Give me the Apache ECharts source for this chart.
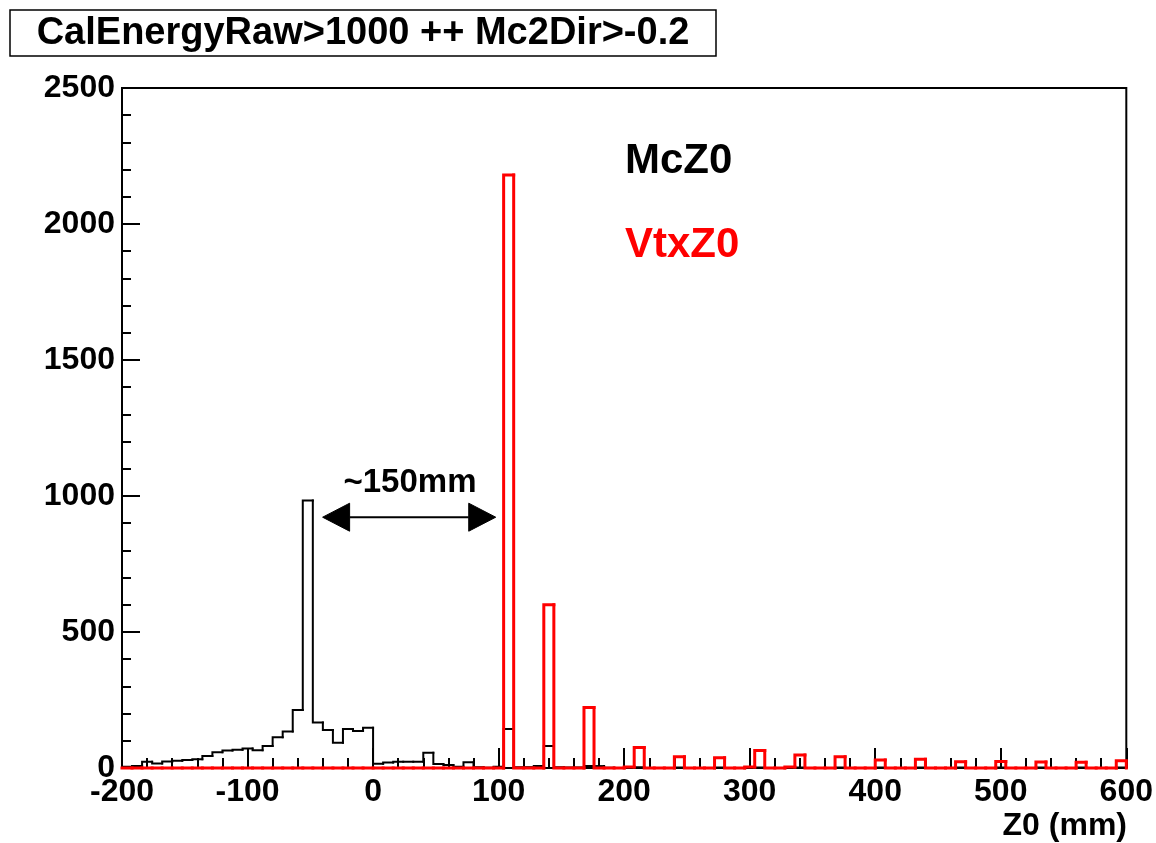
<!DOCTYPE html>
<html>
<head>
<meta charset="utf-8">
<script src="https://cdn.jsdelivr.net/npm/echarts@6/dist/echarts.min.js"></script>
<style>
  html, body { margin: 0; padding: 0; background: #fff; }
  #chart { width: 1156px; height: 843px; }
</style>
</head>
<body>
<div id="chart"></div>
<script>
// Histogram binning: 100 bins of 8 mm from -200 to 600 mm
const binMin = -200;
const binWidth = 8;

// McZ0 counts per bin
const mcZ0 = [
  5, 7, 23, 17, 24, 27, 29, 32, 44, 58,
  64, 67, 72, 65, 81, 113, 134, 213, 983, 167,
  140, 93, 143, 136, 148, 16, 20, 23, 23, 23,
  56, 15, 11, 5, 21, 3, 1, 5, 143, 3,
  3, 7, 81, 3, 2, 2, 7, 7, 1, 0,
  2, 3, 0, 0, 0, 2, 0, 0, 0, 2,
  0, 0, 3, 2, 0, 0, 0, 2, 0, 0,
  0, 2, 0, 0, 0, 2, 0, 0, 0, 2,
  0, 0, 0, 2, 0, 0, 0, 2, 0, 0,
  0, 2, 0, 0, 0, 2, 0, 0, 0, 2
];

// VtxZ0 counts per bin
const vtxZ0 = [
  0, 0, 0, 0, 0, 0, 0, 0, 0, 0,
  0, 0, 0, 0, 0, 0, 0, 0, 0, 0,
  0, 0, 0, 0, 0, 0, 0, 0, 0, 0,
  0, 0, 0, 0, 0, 0, 0, 0, 2180, 0,
  0, 0, 600, 0, 0, 0, 222, 0, 0, 0,
  4, 75, 0, 0, 0, 41, 0, 0, 0, 38,
  0, 0, 4, 64, 0, 0, 4, 48, 0, 0,
  0, 41, 0, 0, 0, 29, 0, 0, 0, 32,
  0, 0, 0, 23, 0, 0, 0, 24, 0, 0,
  0, 22, 0, 0, 0, 21, 0, 0, 0, 27
];

// Axis ticks
const xTicks = { min: -200, max: 600, step: 100 };
const yTicks = { min: 0, max: 2500, step: 500 };

// Annotation: separation arrow between the two peaks
const arrowEnds = [-40.2, 97.7];
const arrowLevel = 922;
const arrowLabel = '~150mm';

const titleText = 'CalEnergyRaw>1000 ++ Mc2Dir>-0.2';
const legendNames = ['McZ0', 'VtxZ0'];
const xAxisTitle = 'Z0 (mm)';

const FONT = '"Liberation Sans", Arial, Helvetica, sans-serif';

// One record per bin: [lowEdge, highEdge, count, previousCount, isLast]
function binRecords(counts) {
  return counts.map((c, i) => [
    binMin + i * binWidth,
    binMin + (i + 1) * binWidth,
    c,
    i === 0 ? 0 : counts[i - 1],
    i === counts.length - 1 ? 1 : 0
  ]);
}

// Draws a histogram outline: rise/fall from the previous bin, then the bin top
function histRenderer(color, width) {
  return function (params, api) {
    const lo = api.value(0), hi = api.value(1);
    const c = api.value(2), prev = api.value(3), last = api.value(4);
    const pts = [api.coord([lo, prev]), api.coord([lo, c]), api.coord([hi, c])];
    if (last) pts.push(api.coord([hi, 0]));
    return {
      type: 'polyline',
      shape: { points: pts },
      style: { stroke: color, lineWidth: width, fill: null, lineJoin: 'miter', lineCap: 'square' }
    };
  };
}

const chart = echarts.init(document.getElementById('chart'), null, { renderer: 'canvas' });

const option = {
  animation: false,
  backgroundColor: '#fff',
  grid: {
    left: 122, right: 29, top: 88, bottom: 75,
    show: true, borderColor: '#000', borderWidth: 2, backgroundColor: 'transparent'
  },
  xAxis: {
    type: 'value',
    min: xTicks.min, max: xTicks.max, interval: xTicks.step,
    axisLine: { show: true, onZero: false, lineStyle: { color: '#000', width: 2 } },
    axisTick: { show: true, inside: true, length: 20, lineStyle: { color: '#000', width: 2 } },
    minorTick: { show: true, splitNumber: 5, length: 10, lineStyle: { color: '#000', width: 2 } },
    splitLine: { show: false },
    minorSplitLine: { show: false },
    axisLabel: {
      show: true, margin: 8, color: '#000', fontFamily: FONT, fontWeight: 'bold', fontSize: 32,
      showMinLabel: true, showMaxLabel: true,
      formatter: v => String(v)
    }
  },
  yAxis: {
    type: 'value',
    min: yTicks.min, max: yTicks.max, interval: yTicks.step,
    axisLine: { show: true, onZero: false, lineStyle: { color: '#000', width: 2 } },
    axisTick: { show: true, inside: true, length: 18, lineStyle: { color: '#000', width: 2 } },
    minorTick: { show: true, splitNumber: 5, length: 9, lineStyle: { color: '#000', width: 2 } },
    splitLine: { show: false },
    minorSplitLine: { show: false },
    axisLabel: {
      show: true, margin: 7, color: '#000', fontFamily: FONT, fontWeight: 'bold', fontSize: 32,
      showMinLabel: true, showMaxLabel: true,
      formatter: v => String(v)
    }
  },
  series: [
    {
      name: legendNames[0],
      type: 'custom',
      data: binRecords(mcZ0),
      clip: false,
      renderItem: histRenderer('#000', 2),
      z: 3
    },
    {
      name: legendNames[1],
      type: 'custom',
      data: binRecords(vtxZ0),
      clip: false,
      renderItem: histRenderer('#ff0000', 3),
      z: 4
    },
    {
      name: 'arrow',
      type: 'custom',
      data: [[arrowEnds[0], arrowEnds[1], arrowLevel]],
      clip: false,
      z: 5,
      renderItem: function (params, api) {
        const a = api.coord([api.value(0), api.value(2)]);
        const b = api.coord([api.value(1), api.value(2)]);
        const headLen = 27, headHalf = 14;
        return {
          type: 'group',
          children: [
            {
              type: 'line',
              shape: { x1: a[0] + headLen, y1: a[1], x2: b[0] - headLen, y2: b[1] },
              style: { stroke: '#000', lineWidth: 2 }
            },
            {
              type: 'polygon',
              shape: { points: [[a[0], a[1]], [a[0] + headLen, a[1] - headHalf], [a[0] + headLen, a[1] + headHalf]] },
              style: { fill: '#000', stroke: '#000', lineWidth: 1 }
            },
            {
              type: 'polygon',
              shape: { points: [[b[0], b[1]], [b[0] - headLen, b[1] - headHalf], [b[0] - headLen, b[1] + headHalf]] },
              style: { fill: '#000', stroke: '#000', lineWidth: 1 }
            }
          ]
        };
      }
    }
  ],
  graphic: [
    {
      type: 'rect',
      shape: { x: 10, y: 10, width: 706, height: 46 },
      style: { fill: '#fff', stroke: '#000', lineWidth: 1.5 },
      z: 10
    },
    {
      type: 'text',
      x: 363, y: 34,
      style: {
        text: titleText, fill: '#000', font: 'bold 38px ' + FONT,
        textAlign: 'center', textVerticalAlign: 'middle'
      },
      z: 11
    },
    {
      type: 'text',
      x: 625, y: 161,
      style: { text: legendNames[0], fill: '#000', font: 'bold 42px ' + FONT, textAlign: 'left', textVerticalAlign: 'middle' },
      z: 11
    },
    {
      type: 'text',
      x: 625, y: 245,
      style: { text: legendNames[1], fill: '#ff0000', font: 'bold 42px ' + FONT, textAlign: 'left', textVerticalAlign: 'middle' },
      z: 11
    },
    {
      type: 'text',
      x: 410, y: 483,
      style: { text: arrowLabel, fill: '#000', font: 'bold 33px ' + FONT, textAlign: 'center', textVerticalAlign: 'middle' },
      z: 11
    },
    {
      type: 'text',
      x: 1127, y: 826,
      style: { text: xAxisTitle, fill: '#000', font: 'bold 32px ' + FONT, textAlign: 'right', textVerticalAlign: 'middle' },
      z: 11
    }
  ]
};

chart.setOption(option);
</script>
</body>
</html>
